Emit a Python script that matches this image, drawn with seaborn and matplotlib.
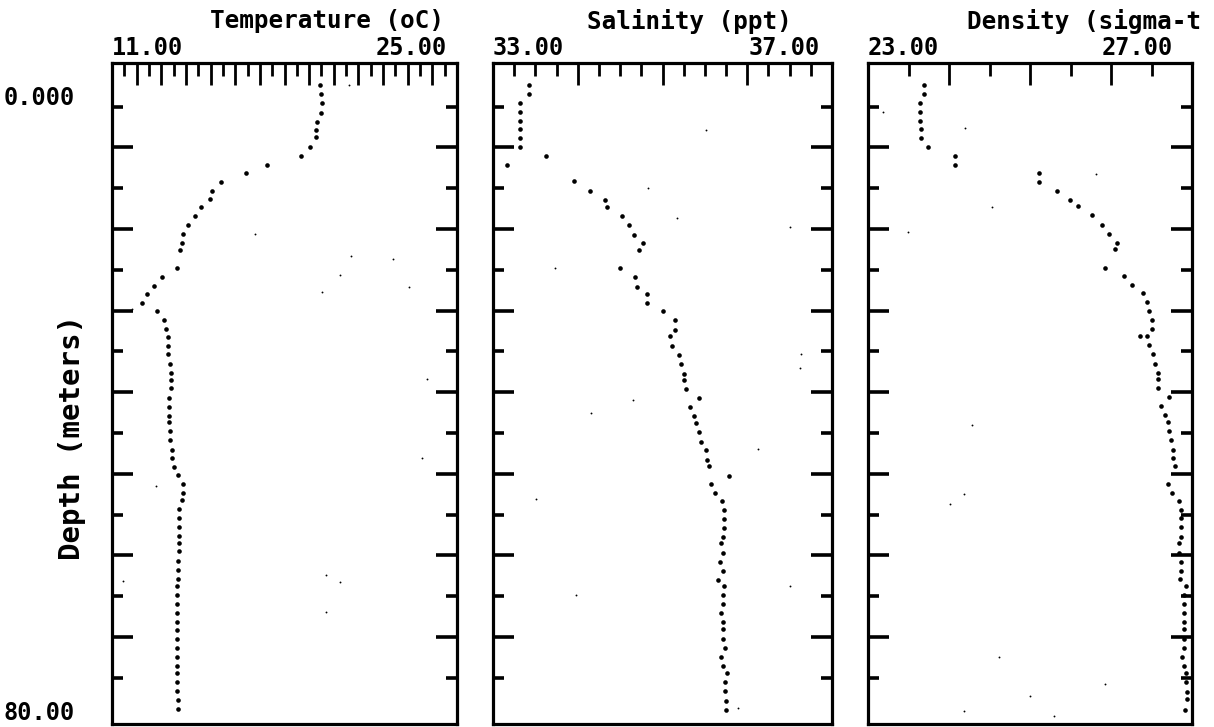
import numpy as np
import pandas as pd
import matplotlib
matplotlib.use("Agg")
import matplotlib.pyplot as plt
import seaborn as sns

# --- profile data (depth in m) ---
temp_depth = [2.3, 3.4, 4.6, 5.8, 6.9, 7.9, 8.7, 9.9, 11.0, 12.1,
              13.1, 14.2, 15.3, 16.3, 17.3, 18.4, 19.5, 20.6, 21.7, 22.6,
              24.8, 25.9, 27.0, 27.9, 29.0, 30.1, 31.1, 32.2, 33.2, 34.3,
              35.3, 36.5, 37.6, 38.5, 39.5, 40.7, 41.8, 42.9, 43.7, 44.8,
              45.9, 47.1, 48.1, 49.1, 50.1, 51.3, 52.4, 53.2, 54.3, 55.4,
              56.5, 57.6, 58.5, 59.5, 60.7, 61.8, 62.9, 63.8, 64.9, 66.0,
              67.1, 68.2, 69.1, 70.2, 71.3, 72.4, 73.5, 74.4, 75.5, 76.6,
              77.7, 78.8]
temp_vals = [19.44, 19.47, 19.51, 19.48, 19.31, 19.28, 19.27, 19.04, 18.66, 17.28,
             16.44, 15.42, 15.07, 14.98, 14.60, 14.37, 14.07, 13.89, 13.85, 13.76,
             13.63, 13.03, 12.72, 12.41, 12.22, 12.81, 13.12, 13.19, 13.27, 13.28,
             13.28, 13.35, 13.38, 13.39, 13.39, 13.33, 13.33, 13.33, 13.33, 13.35,
             13.35, 13.45, 13.45, 13.52, 13.67, 13.89, 13.89, 13.83, 13.73, 13.73,
             13.73, 13.73, 13.73, 13.73, 13.69, 13.69, 13.69, 13.65, 13.63, 13.63,
             13.63, 13.63, 13.63, 13.63, 13.63, 13.63, 13.63, 13.63, 13.63, 13.63,
             13.67, 13.67]

sal_depth = [2.3, 3.4, 4.6, 5.7, 6.7, 7.7, 8.8, 9.9, 11.0, 12.1,
             14.1, 15.3, 16.4, 17.3, 18.4, 19.5, 20.7, 21.7, 22.6, 24.8,
             25.9, 27.1, 27.9, 29.0, 30.1, 31.2, 32.4, 33.1, 34.3, 35.4,
             36.5, 37.7, 38.5, 39.6, 40.7, 41.8, 42.9, 43.8, 44.9, 46.1,
             47.1, 48.3, 49.0, 50.2, 51.3, 52.4, 53.3, 54.4, 55.5, 56.6,
             57.7, 58.5, 59.7, 60.8, 61.9, 63.0, 63.7, 64.9, 66.0, 67.1,
             68.2, 69.0, 70.2, 71.3, 72.4, 73.5, 74.4, 75.5, 76.6, 77.8,
             78.9]
sal_vals = [33.42, 33.42, 33.32, 33.32, 33.32, 33.32, 33.32, 33.32, 33.63, 33.17,
            33.96, 34.14, 34.32, 34.34, 34.52, 34.61, 34.66, 34.77, 34.72, 34.50,
            34.68, 34.70, 34.82, 34.82, 35.00, 35.15, 35.15, 35.09, 35.11, 35.20,
            35.22, 35.25, 35.25, 35.28, 35.43, 35.32, 35.37, 35.39, 35.43, 35.45,
            35.51, 35.52, 35.55, 35.79, 35.57, 35.62, 35.70, 35.73, 35.73, 35.73,
            35.71, 35.69, 35.71, 35.68, 35.71, 35.66, 35.73, 35.71, 35.71, 35.69,
            35.71, 35.71, 35.71, 35.74, 35.69, 35.71, 35.76, 35.74, 35.74, 35.75,
            35.75]

dens_depth = [2.3, 3.4, 4.6, 5.7, 6.7, 7.7, 8.8, 9.9, 11.0, 12.1,
              13.1, 14.2, 15.3, 16.4, 17.2, 18.3, 19.5, 20.6, 21.7, 22.5,
              24.8, 25.8, 26.9, 27.8, 28.9, 30.0, 31.1, 32.2, 33.1, 33.1,
              34.2, 35.3, 36.5, 37.6, 38.4, 39.5, 40.6, 41.7, 42.8, 43.6,
              44.8, 45.9, 47.1, 48.1, 49.0, 51.3, 52.4, 53.3, 54.4, 55.4,
              56.5, 57.7, 58.5, 59.7, 60.8, 61.9, 62.9, 63.7, 64.9, 66.0,
              67.1, 68.2, 69.0, 70.2, 71.3, 72.4, 73.5, 74.4, 75.5, 76.7,
              77.6, 78.9]
dens_vals = [23.69, 23.69, 23.64, 23.64, 23.64, 23.66, 23.66, 23.74, 24.08, 24.08,
             25.11, 25.11, 25.33, 25.49, 25.59, 25.77, 25.89, 25.98, 26.07, 26.05,
             25.92, 26.16, 26.26, 26.40, 26.44, 26.47, 26.51, 26.51, 26.45, 26.36,
             26.47, 26.52, 26.54, 26.58, 26.58, 26.58, 26.72, 26.62, 26.67, 26.70,
             26.72, 26.74, 26.77, 26.77, 26.79, 26.70, 26.75, 26.84, 26.86, 26.86,
             26.86, 26.86, 26.84, 26.84, 26.86, 26.86, 26.85, 26.92, 26.90, 26.90,
             26.90, 26.90, 26.90, 26.90, 26.90, 26.88, 26.90, 26.92, 26.93, 26.94,
             26.94, 26.91]

# stray specks on the scanned plot
temp_speck_depth = [2.3, 20.6, 23.3, 25.6, 27.7, 23.7, 27.1, 38.4, 48.1, 51.5, 62.4, 63.3, 66.9, 63.1, 29.8]
temp_speck_vals = [20.63, 16.80, 20.70, 20.25, 19.53, 22.39, 23.04, 23.77, 23.57, 12.79, 19.69, 20.25, 19.69, 11.46, 11.80]
sal_speck_depth = [7.8, 15.0, 18.7, 19.7, 24.8, 35.3, 37.0, 40.9, 42.5, 47.0, 53.1, 64.9, 63.7, 78.7]
sal_speck_vals = [35.51, 34.83, 35.17, 36.51, 33.73, 36.64, 36.62, 34.65, 34.16, 36.13, 33.51, 33.98, 36.51, 35.89]
dens_speck_depth = [7.6, 13.2, 5.7, 17.3, 20.3, 44.0, 52.5, 53.7, 72.4, 77.2, 75.7, 79.1, 79.7]
dens_speck_vals = [24.20, 25.82, 23.19, 24.53, 23.49, 24.28, 24.19, 24.01, 24.62, 25.00, 25.92, 24.18, 25.30]

titles = ["Temperature (oC)", "Salinity (ppt)", "Density (sigma-t"]
x_limits = [(11, 25), (33, 37), (23, 27)]
x_major_step = [1.0, 1.0, 1.0]
x_minor_step = [0.5, 0.25, 0.5]
depth_labels = ["0.000", "80.00"]
depth_label_vals = [0, 80]

sns.set_style("white")
plt.rcParams["font.family"] = ["DejaVu Sans Mono"]
plt.rcParams["font.weight"] = "bold"
plt.rcParams["text.color"] = "black"
plt.rcParams["xtick.color"] = "black"
plt.rcParams["ytick.color"] = "black"

fig = plt.figure(figsize=(12.14, 7.27), dpi=100)
boxes = [(112, 345), (493, 339), (868, 324)]
H = 727.0
W = 1214.0
axes = [fig.add_axes([l / W, 3 / H, w / W, 661 / H]) for l, w in boxes]

profiles = [
    (temp_vals, temp_depth, temp_speck_vals, temp_speck_depth),
    (sal_vals, sal_depth, sal_speck_vals, sal_speck_depth),
    (dens_vals, dens_depth, dens_speck_vals, dens_speck_depth),
]
right_label_shift = [-7, -9, -14]
title_pos = [(327, "center"), (689, "center"), (967, "left")]
lab_fs = 17
title_fs = 17.5

for i, ax in enumerate(axes):
    vals, depth, sv, sd = profiles[i]
    df = pd.DataFrame({"value": vals, "depth": depth})
    sns.scatterplot(data=df, x="value", y="depth", ax=ax, color="black",
                    s=11, linewidth=0, legend=False)
    sns.scatterplot(x=sv, y=sd, ax=ax, color="black", s=1.8, linewidth=0, legend=False)

    lo, hi = x_limits[i]
    ax.set_xlim(lo, hi)
    ax.set_ylim(80.65, -0.35)
    ax.set_xlabel("")
    ax.set_ylabel("")

    for sp in ax.spines.values():
        sp.set_visible(True)
        sp.set_linewidth(2.3)
        sp.set_color("black")

    # top axis ticks
    maj = np.arange(lo + x_major_step[i], hi, x_major_step[i])
    mnr = np.arange(lo + x_minor_step[i], hi, x_minor_step[i])
    mnr = [m for m in mnr if not np.any(np.isclose(m, maj))]
    ax.set_xticks(maj)
    ax.set_xticks(mnr, minor=True)
    ax.xaxis.tick_top()
    ax.tick_params(axis="x", which="major", direction="in", length=16, width=2,
                   top=True, bottom=False, labeltop=False, labelbottom=False)
    ax.tick_params(axis="x", which="minor", direction="in", length=9, width=2,
                   top=True, bottom=False)

    # depth ticks both sides
    ax.set_yticks(np.arange(10, 80, 10))
    ax.set_yticks(np.arange(5, 80, 10), minor=True)
    ax.tick_params(axis="y", which="major", direction="in", length=15, width=2.6,
                   left=True, right=True, labelleft=False)
    ax.tick_params(axis="y", which="minor", direction="in", length=8, width=2.6,
                   left=True, right=True)

    ax.annotate(f"{lo:.2f}", xy=(lo, 1), xycoords=("data", "axes fraction"),
                xytext=(0, 11), textcoords="offset points", ha="left", va="center",
                fontsize=lab_fs, fontweight="bold")
    ax.annotate(f"{hi:.2f}", xy=(hi, 1), xycoords=("data", "axes fraction"),
                xytext=(right_label_shift[i], 11), textcoords="offset points",
                ha="right", va="center", fontsize=lab_fs, fontweight="bold")

    tx, ha = title_pos[i]
    fig.text(tx / W, (H - 21) / H, titles[i], ha=ha, va="center",
             fontsize=title_fs, fontweight="bold")

# depth labels on the left panel
shifts = [-23, 4]
for lab, val, dy in zip(depth_labels, depth_label_vals, shifts):
    axes[0].annotate(lab, xy=(0, val), xycoords=("axes fraction", "data"),
                     xytext=(-78, dy), textcoords="offset points",
                     ha="left", va="center", fontsize=lab_fs, fontweight="bold")

fig.text(72 / W, (H - 438) / H, "Depth (meters)", rotation=90, ha="center",
         va="center", fontsize=21, fontweight="bold")

fig.savefig("out.png", dpi=100)
